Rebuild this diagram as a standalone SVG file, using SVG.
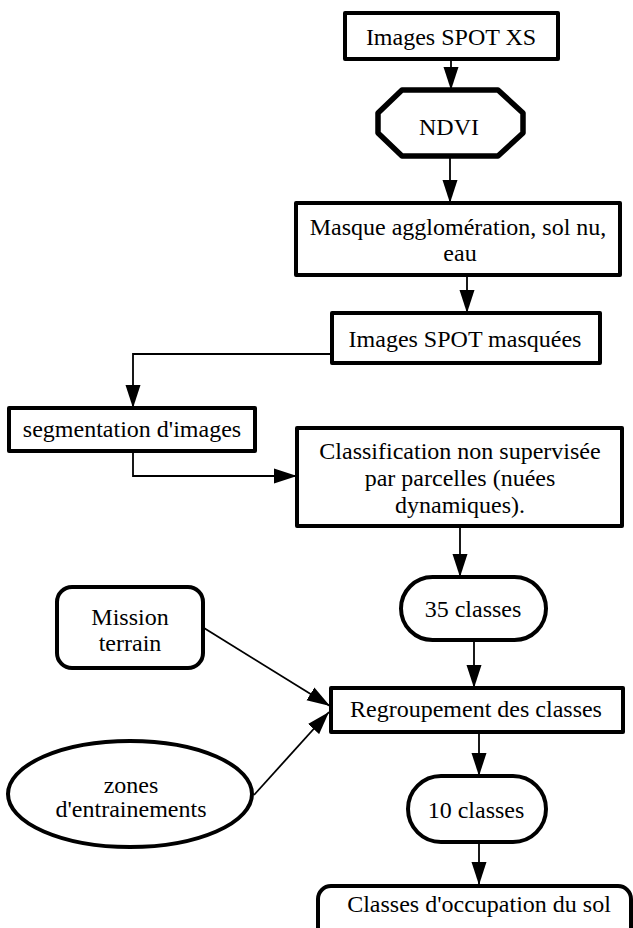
<svg xmlns="http://www.w3.org/2000/svg" width="633" height="928" viewBox="0 0 633 928">
<style>
.box{fill:#fff;stroke:#000;stroke-width:4;stroke-linejoin:round}
.oct{fill:#fff;stroke:#000;stroke-width:5.5;stroke-linejoin:round}
text{font-family:'Liberation Serif','Times New Roman','DejaVu Serif',serif;font-size:24px;fill:#000;text-anchor:middle}
.c{fill:none;stroke:#000;stroke-width:1.8}
</style>
<defs>
<marker id="ah" markerUnits="userSpaceOnUse" markerWidth="24" markerHeight="16" refX="23" refY="8" orient="auto">
<path d="M0,0.5 L23,8 L0,15.5 z" fill="#000"/>
</marker>
</defs>
<rect width="633" height="928" fill="#fff"/>
<g id="connectors">
<line class="c" x1="451" y1="59" x2="451" y2="90" marker-end="url(#ah)"/>
<line class="c" x1="450" y1="156" x2="450" y2="203" marker-end="url(#ah)"/>
<line class="c" x1="467" y1="275" x2="467" y2="313" marker-end="url(#ah)"/>
<polyline class="c" points="332,354 133,354 133,408" marker-end="url(#ah)"/>
<polyline class="c" points="133,451 133,476 297,476" marker-end="url(#ah)"/>
<line class="c" x1="460" y1="526" x2="460" y2="577" marker-end="url(#ah)"/>
<line class="c" x1="474" y1="640" x2="474" y2="688" marker-end="url(#ah)"/>
<line class="c" x1="204" y1="628" x2="330" y2="706" marker-end="url(#ah)"/>
<line class="c" x1="254" y1="795" x2="329" y2="712" marker-end="url(#ah)"/>
<line class="c" x1="479" y1="732" x2="479" y2="776" marker-end="url(#ah)"/>
<line class="c" x1="479" y1="842" x2="479" y2="885" marker-end="url(#ah)"/>
</g>
<g font-family="Liberation Serif, Times New Roman, DejaVu Serif, serif" font-size="24" text-anchor="middle">
<g id="n1">
<rect class="box" x="345" y="13" width="213" height="46"/>
<text x="451" y="45">Images SPOT XS</text>
</g>
<g id="n2">
<polygon class="oct" points="402,90 498,90 523,113 523,133 498,156 402,156 378,133 378,113"/>
<text x="449" y="135">NDVI</text>
</g>
<g id="n3">
<rect class="box" x="296" y="203" width="324" height="72"/>
<text x="458" y="235">Masque agglomération, sol nu,</text>
<text x="460" y="261">eau</text>
</g>
<g id="n4">
<rect class="box" x="332" y="313" width="268" height="50"/>
<text x="465" y="347">Images SPOT masquées</text>
</g>
<g id="n5">
<rect class="box" x="9" y="408" width="246" height="43"/>
<text x="132" y="437">segmentation d'images</text>
</g>
<g id="n6">
<rect class="box" x="297" y="428" width="325" height="98"/>
<text x="460" y="459">Classification non supervisée</text>
<text x="460" y="486">par parcelles (nuées</text>
<text x="460" y="513">dynamiques).</text>
</g>
<g id="n7">
<rect class="box" x="401" y="577" width="145" height="63" rx="31.5" ry="31.5"/>
<text x="473" y="617">35 classes</text>
</g>
<g id="n8">
<rect class="box" x="57" y="587" width="146" height="81" rx="15" ry="15"/>
<text x="130" y="625">Mission</text>
<text x="130" y="651">terrain</text>
</g>
<g id="n9">
<rect class="box" x="331" y="688" width="292" height="44"/>
<text x="476" y="717">Regroupement des classes</text>
</g>
<g id="n10">
<ellipse class="box" cx="130" cy="794" rx="122" ry="53"/>
<text x="131" y="793">zones</text>
<text x="131" y="817">d'entrainements</text>
</g>
<g id="n11">
<rect class="box" x="408" y="776" width="138" height="66" rx="33" ry="33"/>
<text x="476" y="818">10 classes</text>
</g>
<g id="n12">
<rect class="box" x="318" y="886" width="313" height="60" rx="13" ry="13"/>
<text x="479" y="912">Classes d'occupation du sol</text>
</g>
</g>
</svg>
